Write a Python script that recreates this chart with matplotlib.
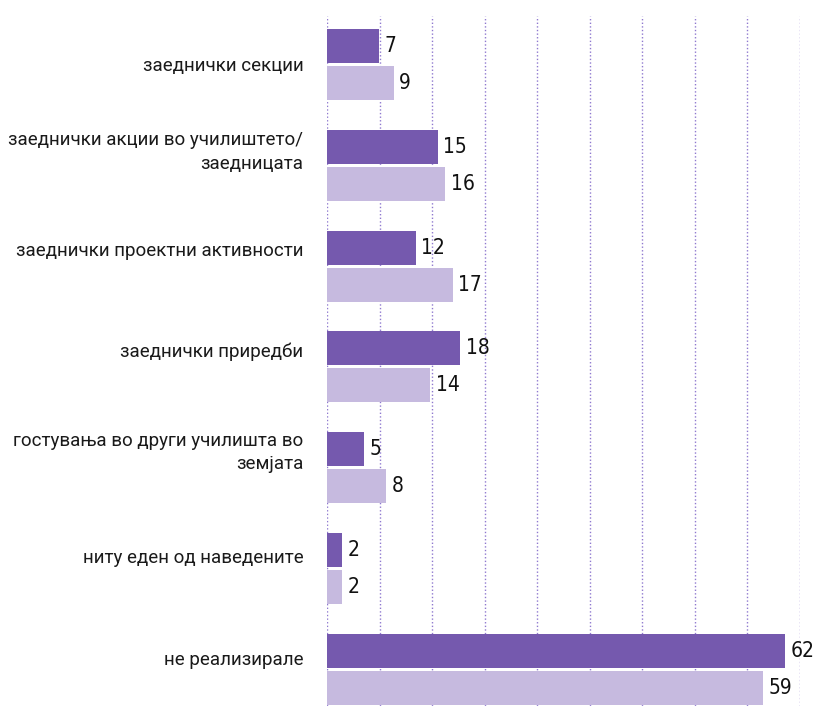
import numpy as np
import matplotlib
matplotlib.use('Agg')
import matplotlib.pyplot as plt

categories = ['заеднички секции',
              'заеднички акции во училиштето/\nзаедницата',
              'заеднички проектни активности',
              'заеднички приредби',
              'гостувања во други училишта во\nземјата',
              'ниту еден од наведените',
              'не реализирале']
series_a = [7, 15, 12, 18, 5, 2, 62]
series_b = [9, 16, 17, 14, 8, 2, 59]

# small vertical nudges of the category labels (in bar-group units)
label_nudge = [0.015, -0.13, -0.15, -0.15, -0.15, -0.10, -0.095]

dark = '#7559ae'
light = '#c6badf'
num_font = dict(family=['Liberation Sans Narrow', 'DejaVu Sans'], stretch='condensed')

fig = plt.figure(figsize=(8.14, 7.06), dpi=100)
ax = fig.add_axes([327 / 814, 0, 473 / 814, 690 / 706])

y = np.arange(len(categories))
h = 0.337
off = 0.183
ax.barh(y - off, series_a, height=h, color=dark, zorder=2)
ax.barh(y + off, series_b, height=h, color=light, zorder=2)

for i in range(len(categories)):
    ax.annotate(str(series_a[i]), (series_a[i], y[i] - off), xytext=(4, 0),
                textcoords='offset points', va='center', ha='left',
                fontsize=15, color='#111111', **num_font)
    ax.annotate(str(series_b[i]), (series_b[i], y[i] + off), xytext=(4, 0),
                textcoords='offset points', va='center', ha='left',
                fontsize=15, color='#111111', **num_font)
    ax.text(-3.2, y[i] + label_nudge[i], categories[i], ha='right', va='center',
            fontsize=13.5, family='Roboto', color='#1a1a1a',
            linespacing=1.4, multialignment='right')

xmax = 64
ax.set_xlim(0, xmax)
ax.set_ylim(6.364, -0.481)
ax.set_xticks(np.linspace(0, xmax, 10))
ax.set_yticks([])
ax.tick_params(axis='x', length=0, labelbottom=False)
ax.grid(axis='x', color='#8f79cf', linestyle=(0, (1, 1.6)), linewidth=1, zorder=0)
for s in ax.spines.values():
    s.set_visible(False)

fig.savefig('out.png', dpi=100)
